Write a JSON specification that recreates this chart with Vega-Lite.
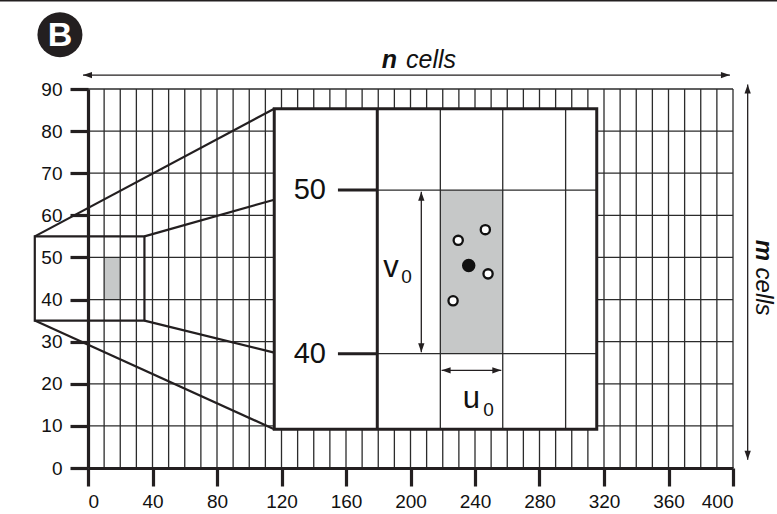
{
  "$schema": "https://vega.github.io/schema/vega-lite/v6.json",
  "width": 645,
  "height": 379,
  "autosize": {"type": "none"},
  "padding": {"left": 88, "top": 89, "right": 44, "bottom": 46},
  "background": "white",
  "config": {
    "view": {"stroke": null},
    "font": "Liberation Sans"
  },
  "datasets": {
    "vgrid": [
      {"x": 10}, {"x": 20}, {"x": 30}, {"x": 40}, {"x": 50}, {"x": 60}, {"x": 70}, {"x": 80},
      {"x": 90}, {"x": 100}, {"x": 110}, {"x": 120}, {"x": 130}, {"x": 140}, {"x": 150}, {"x": 160},
      {"x": 170}, {"x": 180}, {"x": 190}, {"x": 200}, {"x": 210}, {"x": 220}, {"x": 230}, {"x": 240},
      {"x": 250}, {"x": 260}, {"x": 270}, {"x": 280}, {"x": 290}, {"x": 300}, {"x": 310}, {"x": 320},
      {"x": 330}, {"x": 340}, {"x": 350}, {"x": 360}, {"x": 370}, {"x": 380}, {"x": 390}, {"x": 400}
    ],
    "hgrid": [
      {"y": 10}, {"y": 20}, {"y": 30}, {"y": 40}, {"y": 50}, {"y": 60}, {"y": 70}, {"y": 80}, {"y": 90}
    ],
    "cell_main": [{"x": 10, "x2": 20, "y": 40, "y2": 50}],
    "cell_zoom": [{"x": 218.5, "x2": 257.2, "y": 27.15, "y2": 66.0}],
    "window_small": [{"x": -33, "x2": 35, "y": 35, "y2": 55}],
    "window_big": [{"x": 115.5, "x2": 315.5, "y": 9.2, "y2": 85.3}],
    "links": [
      {"x": -33, "y": 55, "x2": 115.5, "y2": 85.3},
      {"x": 35, "y": 55, "x2": 115.5, "y2": 63.7},
      {"x": -33, "y": 35, "x2": 115.5, "y2": 9.2},
      {"x": 35, "y": 35, "x2": 115.5, "y2": 27.4}
    ],
    "zoom_thin": [
      {"x": 218.5, "y": 9.2, "x2": 218.5, "y2": 85.3},
      {"x": 257.2, "y": 9.2, "x2": 257.2, "y2": 85.3},
      {"x": 296.2, "y": 9.2, "x2": 296.2, "y2": 85.3},
      {"x": 179.4, "y": 66.0, "x2": 315.5, "y2": 66.0},
      {"x": 179.4, "y": 27.15, "x2": 315.5, "y2": 27.15}
    ],
    "zoom_thick": [
      {"x": 179.4, "y": 9.2, "x2": 179.4, "y2": 85.3},
      {"x": 155, "y": 66.0, "x2": 179.4, "y2": 66.0},
      {"x": 155, "y": 27.15, "x2": 179.4, "y2": 27.15}
    ],
    "zoom_labels": [
      {"x": 147.6, "y": 66.0, "label": "50"},
      {"x": 147.6, "y": 27.15, "label": "40"}
    ],
    "points": [
      {"x": 229.6, "y": 54.06, "kind": "observation"},
      {"x": 246.4, "y": 56.6, "kind": "observation"},
      {"x": 248.1, "y": 46.1, "kind": "observation"},
      {"x": 226.4, "y": 39.7, "kind": "observation"},
      {"x": 236.1, "y": 48.1, "kind": "centre"}
    ],
    "arrows": [
      {"x": 206.7, "y": 27.5, "x2": 206.7, "y2": 65.6},
      {"x": 219.3, "y": 23.2, "x2": 256.3, "y2": 23.2},
      {"x": -3.1, "y": 93.3, "x2": 398.1, "y2": 93.3},
      {"x": 409.1, "y": 1.97, "x2": 409.1, "y2": 91.05}
    ],
    "heads": [
      {"x": 206.7, "y": 65.6, "dir": "up"},
      {"x": 206.7, "y": 27.5, "dir": "down"},
      {"x": 219.3, "y": 23.2, "dir": "left"},
      {"x": 256.3, "y": 23.2, "dir": "right"},
      {"x": -3.1, "y": 93.3, "dir": "left"},
      {"x": 398.1, "y": 93.3, "dir": "right"},
      {"x": 409.1, "y": 91.05, "dir": "up"},
      {"x": 409.1, "y": 1.97, "dir": "down"}
    ],
    "symbols": [
      {"x": 187.9, "y": 45.4, "label": "v"},
      {"x": 237.8, "y": 14.3, "label": "u"}
    ],
    "subscripts": [
      {"x": 194.2, "y": 44.0, "label": "0"},
      {"x": 245.1, "y": 12.3, "label": "0"}
    ],
    "count_letter": [{"x": 191.6, "y": 95.08, "label": "n"}],
    "count_word": [{"x": 197.2, "y": 95.08, "label": "cells"}],
    "side_letter": [{"x": 418.9, "y": 54.2, "label": "m"}],
    "side_word": [{"x": 418.9, "y": 47.6, "label": "cells"}],
    "badge": [{"x": -17.4, "y": 102.9, "label": "B"}],
    "frame": [{"x": -54.6, "x2": 427.3, "y": 111.0}]
  },
  "layer": [
    {
      "data": {"name": "frame"},
      "mark": {"type": "rule", "color": "#231f20", "strokeWidth": 2},
      "encoding": {
        "x": {"field": "x", "type": "quantitative", "scale": {"domain": [0, 400], "nice": false}, "axis": {"title": null}},
        "x2": {"field": "x2"},
        "y": {"field": "y", "type": "quantitative", "scale": {"domain": [0, 90], "nice": false}, "axis": {"title": null}}
      }
    },
    {
      "data": {"name": "cell_main"},
      "mark": {"type": "rect", "fill": "#c6c8c8"},
      "encoding": {
        "x": {"field": "x", "type": "quantitative", "scale": {"domain": [0, 400], "nice": false}, "axis": {"title": null}},
        "x2": {"field": "x2"},
        "y": {"field": "y", "type": "quantitative", "scale": {"domain": [0, 90], "nice": false}, "axis": {"title": null}},
        "y2": {"field": "y2"}
      }
    },
    {
      "data": {"name": "vgrid"},
      "mark": {"type": "rule", "color": "#2b2b2b", "strokeWidth": 1.3},
      "encoding": {
        "x": {
          "field": "x", "type": "quantitative",
          "scale": {"domain": [0, 400], "nice": false},
          "axis": {
            "title": null,
            "values": [0, 40, 80, 120, 160, 200, 240, 280, 320, 360, 400],
            "grid": false,
            "zindex": 1,
            "domainColor": "#231f20",
            "domainWidth": 3.2,
            "tickColor": "#231f20",
            "tickWidth": 3.2,
            "tickSize": 18,
            "labelFont": "Liberation Sans",
            "labelFontSize": 19,
            "labelColor": "#111111",
            "labelPadding": 6
          }
        }
      }
    },
    {
      "data": {"name": "hgrid"},
      "mark": {"type": "rule", "color": "#2b2b2b", "strokeWidth": 1.3},
      "encoding": {
        "y": {
          "field": "y", "type": "quantitative",
          "scale": {"domain": [0, 90], "nice": false},
          "axis": {
            "title": null,
            "values": [0, 10, 20, 30, 40, 50, 60, 70, 80, 90],
            "grid": false,
            "zindex": 1,
            "domainColor": "#231f20",
            "domainWidth": 3.2,
            "tickColor": "#231f20",
            "tickWidth": 3.2,
            "tickSize": 18,
            "labelFont": "Liberation Sans",
            "labelFontSize": 19,
            "labelColor": "#111111",
            "labelPadding": 8
          }
        }
      }
    },
    {
      "data": {"name": "window_small"},
      "mark": {"type": "rect", "fillOpacity": 0, "stroke": "#231f20", "strokeWidth": 2.2},
      "encoding": {
        "x": {"field": "x", "type": "quantitative", "scale": {"domain": [0, 400], "nice": false}, "axis": {"title": null}},
        "x2": {"field": "x2"},
        "y": {"field": "y", "type": "quantitative", "scale": {"domain": [0, 90], "nice": false}, "axis": {"title": null}},
        "y2": {"field": "y2"}
      }
    },
    {
      "data": {"name": "links"},
      "mark": {"type": "rule", "color": "#231f20", "strokeWidth": 2.2},
      "encoding": {
        "x": {"field": "x", "type": "quantitative", "scale": {"domain": [0, 400], "nice": false}, "axis": {"title": null}},
        "x2": {"field": "x2"},
        "y": {"field": "y", "type": "quantitative", "scale": {"domain": [0, 90], "nice": false}, "axis": {"title": null}},
        "y2": {"field": "y2"}
      }
    },
    {
      "data": {"name": "window_big"},
      "mark": {"type": "rect", "fill": "white"},
      "encoding": {
        "x": {"field": "x", "type": "quantitative", "scale": {"domain": [0, 400], "nice": false}, "axis": {"title": null}},
        "x2": {"field": "x2"},
        "y": {"field": "y", "type": "quantitative", "scale": {"domain": [0, 90], "nice": false}, "axis": {"title": null}},
        "y2": {"field": "y2"}
      }
    },
    {
      "data": {"name": "cell_zoom"},
      "mark": {"type": "rect", "fill": "#c6c8c8"},
      "encoding": {
        "x": {"field": "x", "type": "quantitative", "scale": {"domain": [0, 400], "nice": false}, "axis": {"title": null}},
        "x2": {"field": "x2"},
        "y": {"field": "y", "type": "quantitative", "scale": {"domain": [0, 90], "nice": false}, "axis": {"title": null}},
        "y2": {"field": "y2"}
      }
    },
    {
      "data": {"name": "zoom_thin"},
      "mark": {"type": "rule", "color": "#2b2b2b", "strokeWidth": 1.3},
      "encoding": {
        "x": {"field": "x", "type": "quantitative", "scale": {"domain": [0, 400], "nice": false}, "axis": {"title": null}},
        "x2": {"field": "x2"},
        "y": {"field": "y", "type": "quantitative", "scale": {"domain": [0, 90], "nice": false}, "axis": {"title": null}},
        "y2": {"field": "y2"}
      }
    },
    {
      "data": {"name": "zoom_thick"},
      "mark": {"type": "rule", "color": "#231f20", "strokeWidth": 3},
      "encoding": {
        "x": {"field": "x", "type": "quantitative", "scale": {"domain": [0, 400], "nice": false}, "axis": {"title": null}},
        "x2": {"field": "x2"},
        "y": {"field": "y", "type": "quantitative", "scale": {"domain": [0, 90], "nice": false}, "axis": {"title": null}},
        "y2": {"field": "y2"}
      }
    },
    {
      "data": {"name": "window_big"},
      "mark": {"type": "rect", "fillOpacity": 0, "stroke": "#231f20", "strokeWidth": 3},
      "encoding": {
        "x": {"field": "x", "type": "quantitative", "scale": {"domain": [0, 400], "nice": false}, "axis": {"title": null}},
        "x2": {"field": "x2"},
        "y": {"field": "y", "type": "quantitative", "scale": {"domain": [0, 90], "nice": false}, "axis": {"title": null}},
        "y2": {"field": "y2"}
      }
    },
    {
      "data": {"name": "zoom_labels"},
      "mark": {"type": "text", "fontSize": 29, "align": "right", "baseline": "middle", "color": "#111111"},
      "encoding": {
        "x": {"field": "x", "type": "quantitative", "scale": {"domain": [0, 400], "nice": false}, "axis": {"title": null}},
        "y": {"field": "y", "type": "quantitative", "scale": {"domain": [0, 90], "nice": false}, "axis": {"title": null}},
        "text": {"field": "label"}
      }
    },
    {
      "data": {"name": "arrows"},
      "mark": {"type": "rule", "color": "#231f20", "strokeWidth": 1.3},
      "encoding": {
        "x": {"field": "x", "type": "quantitative", "scale": {"domain": [0, 400], "nice": false}, "axis": {"title": null}},
        "x2": {"field": "x2"},
        "y": {"field": "y", "type": "quantitative", "scale": {"domain": [0, 90], "nice": false}, "axis": {"title": null}},
        "y2": {"field": "y2"}
      }
    },
    {
      "data": {"name": "heads"},
      "mark": {"type": "point", "filled": true, "size": 81, "color": "#231f20", "opacity": 1},
      "encoding": {
        "x": {"field": "x", "type": "quantitative", "scale": {"domain": [0, 400], "nice": false}, "axis": {"title": null}},
        "y": {"field": "y", "type": "quantitative", "scale": {"domain": [0, 90], "nice": false}, "axis": {"title": null}},
        "shape": {
          "field": "dir", "type": "nominal", "legend": null,
          "scale": {
            "domain": ["left", "right", "up", "down"],
            "range": ["M0,0L2,-0.7L2,0.7Z", "M0,0L-2,-0.7L-2,0.7Z", "M0,0L-0.7,2L0.7,2Z", "M0,0L-0.7,-2L0.7,-2Z"]
          }
        }
      }
    },
    {
      "data": {"name": "points"},
      "mark": {"type": "point", "filled": true, "stroke": "#111111", "strokeWidth": 2.3, "opacity": 1},
      "encoding": {
        "x": {"field": "x", "type": "quantitative", "scale": {"domain": [0, 400], "nice": false}, "axis": {"title": null}},
        "y": {"field": "y", "type": "quantitative", "scale": {"domain": [0, 90], "nice": false}, "axis": {"title": null}},
        "fill": {"field": "kind", "type": "nominal", "legend": null,
          "scale": {"domain": ["observation", "centre"], "range": ["white", "#111111"]}},
        "size": {"field": "kind", "type": "nominal", "legend": null,
          "scale": {"domain": ["observation", "centre"], "range": [85, 125]}}
      }
    },
    {
      "data": {"name": "symbols"},
      "mark": {"type": "text", "fontSize": 31, "align": "center", "baseline": "alphabetic", "color": "#111111"},
      "encoding": {
        "x": {"field": "x", "type": "quantitative", "scale": {"domain": [0, 400], "nice": false}, "axis": {"title": null}},
        "y": {"field": "y", "type": "quantitative", "scale": {"domain": [0, 90], "nice": false}, "axis": {"title": null}},
        "text": {"field": "label"}
      }
    },
    {
      "data": {"name": "subscripts"},
      "mark": {"type": "text", "fontSize": 19, "align": "left", "baseline": "alphabetic", "color": "#111111"},
      "encoding": {
        "x": {"field": "x", "type": "quantitative", "scale": {"domain": [0, 400], "nice": false}, "axis": {"title": null}},
        "y": {"field": "y", "type": "quantitative", "scale": {"domain": [0, 90], "nice": false}, "axis": {"title": null}},
        "text": {"field": "label"}
      }
    },
    {
      "data": {"name": "count_letter"},
      "mark": {"type": "text", "fontSize": 25, "fontStyle": "italic", "fontWeight": "bold", "align": "right", "baseline": "alphabetic", "color": "#111111"},
      "encoding": {
        "x": {"field": "x", "type": "quantitative", "scale": {"domain": [0, 400], "nice": false}, "axis": {"title": null}},
        "y": {"field": "y", "type": "quantitative", "scale": {"domain": [0, 90], "nice": false}, "axis": {"title": null}},
        "text": {"field": "label"}
      }
    },
    {
      "data": {"name": "count_word"},
      "mark": {"type": "text", "fontSize": 25, "fontStyle": "italic", "align": "left", "baseline": "alphabetic", "color": "#111111"},
      "encoding": {
        "x": {"field": "x", "type": "quantitative", "scale": {"domain": [0, 400], "nice": false}, "axis": {"title": null}},
        "y": {"field": "y", "type": "quantitative", "scale": {"domain": [0, 90], "nice": false}, "axis": {"title": null}},
        "text": {"field": "label"}
      }
    },
    {
      "data": {"name": "side_letter"},
      "mark": {"type": "text", "fontSize": 24, "fontStyle": "italic", "fontWeight": "bold", "angle": 90, "align": "left", "baseline": "middle", "color": "#111111"},
      "encoding": {
        "x": {"field": "x", "type": "quantitative", "scale": {"domain": [0, 400], "nice": false}, "axis": {"title": null}},
        "y": {"field": "y", "type": "quantitative", "scale": {"domain": [0, 90], "nice": false}, "axis": {"title": null}},
        "text": {"field": "label"}
      }
    },
    {
      "data": {"name": "side_word"},
      "mark": {"type": "text", "fontSize": 24, "fontStyle": "italic", "angle": 90, "align": "left", "baseline": "middle", "color": "#111111"},
      "encoding": {
        "x": {"field": "x", "type": "quantitative", "scale": {"domain": [0, 400], "nice": false}, "axis": {"title": null}},
        "y": {"field": "y", "type": "quantitative", "scale": {"domain": [0, 90], "nice": false}, "axis": {"title": null}},
        "text": {"field": "label"}
      }
    },
    {
      "data": {"name": "badge"},
      "mark": {"type": "point", "filled": true, "shape": "circle", "size": 2025, "color": "#231f20", "opacity": 1},
      "encoding": {
        "x": {"field": "x", "type": "quantitative", "scale": {"domain": [0, 400], "nice": false}, "axis": {"title": null}},
        "y": {"field": "y", "type": "quantitative", "scale": {"domain": [0, 90], "nice": false}, "axis": {"title": null}}
      }
    },
    {
      "data": {"name": "badge"},
      "mark": {"type": "text", "fontSize": 34, "fontWeight": "bold", "align": "center", "baseline": "middle", "dy": 1, "color": "white"},
      "encoding": {
        "x": {"field": "x", "type": "quantitative", "scale": {"domain": [0, 400], "nice": false}, "axis": {"title": null}},
        "y": {"field": "y", "type": "quantitative", "scale": {"domain": [0, 90], "nice": false}, "axis": {"title": null}},
        "text": {"field": "label"}
      }
    }
  ]
}
